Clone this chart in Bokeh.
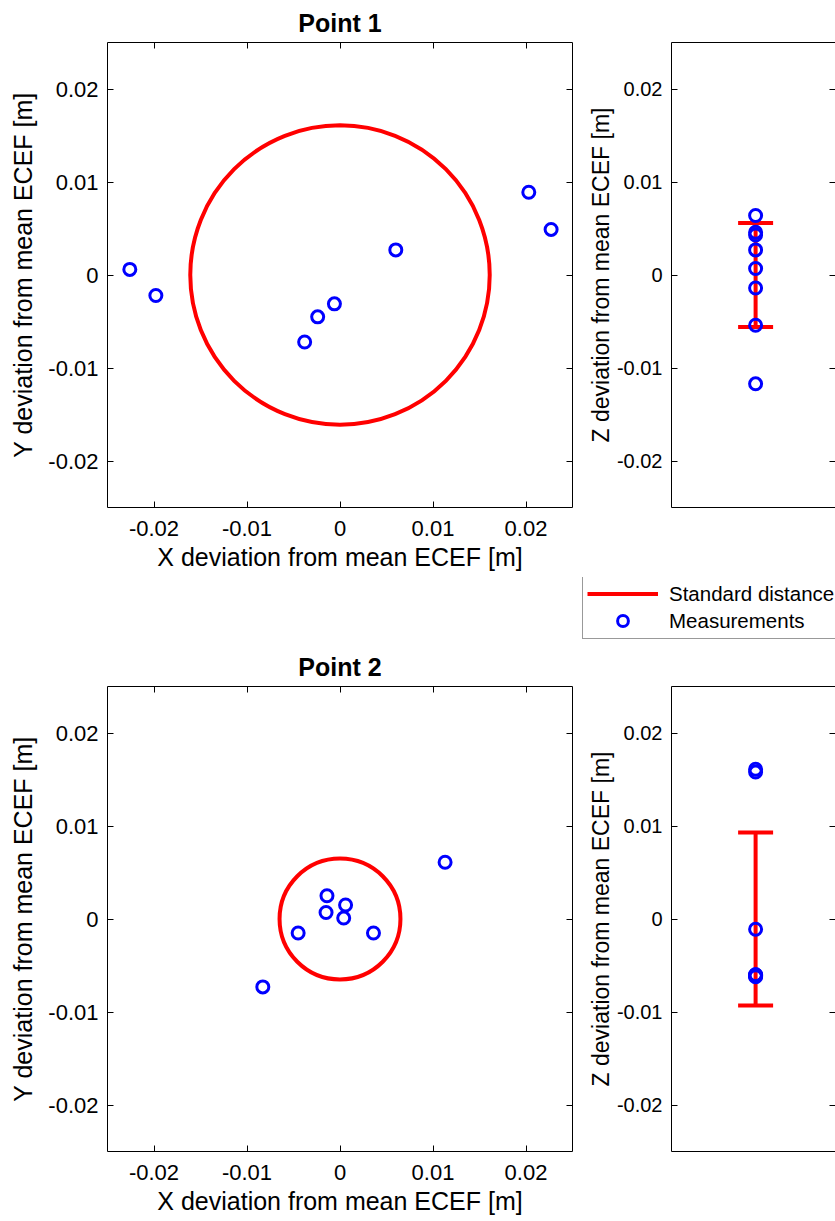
from bokeh.plotting import figure
from bokeh.models import Range1d, FixedTicker, LinearAxis, Legend, LegendItem
from bokeh.layouts import column, row
from bokeh.embed import file_html
from bokeh.resources import INLINE

# ---------------- data ----------------
tick_values = [-0.02, -0.01, 0.0, 0.01, 0.02]
tick_labels = ["-0.02", "-0.01", "0", "0.01", "0.02"]
axis_limits = (-0.025, 0.025)

p1_x = [-0.0226, -0.0198, -0.0038, -0.0024, -0.0006, 0.0060, 0.0203, 0.0227]
p1_y = [0.0006, -0.0022, -0.0072, -0.0045, -0.0031, 0.0027, 0.0089, 0.0049]
p1_z = [0.0064, 0.0046, 0.0043, 0.0027, 0.0007, -0.0014, -0.0054, -0.0117]
p1_std_xy = 0.0161
p1_std_z = 0.0056

p2_x = [0.0113, -0.0014, 0.0006, -0.0015, 0.0004, -0.0045, 0.0036, -0.0083]
p2_y = [0.0061, 0.0025, 0.0015, 0.0007, 0.0001, -0.0015, -0.0015, -0.0073]
p2_z = [0.0161, 0.0158, -0.0011, -0.0060, -0.0061, -0.0062, -0.0061, -0.0060]
p2_std_xy = 0.0065
p2_std_z = 0.0093

z_position = 1.0
z_limits = (0.0, 1.95)
titles = ["Point 1", "Point 2"]
x_label = "X deviation from mean ECEF [m]"
y_label = "Y deviation from mean ECEF [m]"
z_label = "Z deviation from mean ECEF [m]"
legend_labels = ["Standard distance", "Measurements"]

FONT = "Liberation Sans"
overrides = dict(zip(tick_values, tick_labels))

# layout (pixels)
XY_W, Z_W = 582, 253
ROW1_H, LEG_H = 577, 63
ROW2_H = 1221 - ROW1_H - LEG_H


def blank_axis(ticks, tick_in, line=None):
    ax = LinearAxis(ticker=FixedTicker(ticks=ticks))
    ax.major_tick_in = tick_in
    ax.major_tick_out = 0
    ax.minor_tick_in = 0
    ax.minor_tick_out = 0
    ax.major_label_text_font_size = "0px"
    ax.major_label_standoff = 0
    ax.major_label_overrides = {t: "" for t in ticks}
    ax.axis_line_color = line
    ax.major_tick_line_color = "black"
    return ax


def style_axis(ax, label, tick_size, label_size, tick_standoff, label_standoff, ticks=True):
    ax.ticker = FixedTicker(ticks=tick_values if ticks else [])
    ax.major_label_overrides = overrides if ticks else {}
    ax.major_tick_in = 6
    ax.major_tick_out = 0
    ax.minor_tick_in = 0
    ax.minor_tick_out = 0
    ax.major_tick_line_color = "black"
    ax.major_label_text_font = FONT
    ax.major_label_text_font_size = tick_size
    ax.major_label_text_color = "black"
    ax.major_label_standoff = tick_standoff
    ax.axis_label = label
    ax.axis_label_text_font = FONT
    ax.axis_label_text_font_size = label_size
    ax.axis_label_text_font_style = "normal"
    ax.axis_label_text_color = "black"
    ax.axis_label_standoff = label_standoff


def xy_fig(title, xs, ys, std, height, top_border):
    p = figure(width=XY_W, height=height,
               x_range=Range1d(*axis_limits), y_range=Range1d(*axis_limits),
               output_backend="svg", toolbar_location=None,
               min_border_left=107, min_border_right=10,
               min_border_top=top_border, min_border_bottom=height - top_border - 465,
               title=title)
    p.title.text_font = FONT
    p.title.text_font_size = "25px"
    p.title.text_font_style = "bold"
    p.title.align = "center"
    p.title.offset = 5
    p.title.standoff = 11
    p.title.text_color = "black"
    p.outline_line_color = "black"
    p.outline_line_width = 1
    p.grid.visible = False
    style_axis(p.xaxis[0], x_label, "22px", "25px", 13, 4)
    style_axis(p.yaxis[0], y_label, "22px", "25px", 9, 8)
    p.xaxis[0].axis_line_color = None
    p.yaxis[0].axis_line_color = None
    p.add_layout(blank_axis(tick_values, 6), "above")
    p.add_layout(blank_axis(tick_values, 6), "right")
    p.circle(x=[0.0], y=[0.0], radius=std, fill_color=None,
             line_color="red", line_width=4)
    p.scatter(x=xs, y=ys, size=12, fill_color=None, line_color="blue",
              line_width=3)
    return p


def z_glyphs(p, zs, std, visible=True):
    seg = p.segment(x0=[z_position], y0=[-std], x1=[z_position], y1=[std],
                    line_color="red", line_width=4, visible=visible)
    p.scatter(x=[z_position, z_position], y=[std, -std], marker="dash",
              size=35, line_color="red", line_width=4, visible=visible)
    sc = p.scatter(x=[z_position] * len(zs), y=zs, size=12, fill_color=None,
                   line_color="blue", line_width=3, visible=visible)
    return seg, sc


def z_fig(zs, std, height, top_border):
    p = figure(width=Z_W, height=height,
               x_range=Range1d(*z_limits), y_range=Range1d(*axis_limits),
               output_backend="svg", toolbar_location=None,
               min_border_left=89, min_border_right=0,
               min_border_top=top_border, min_border_bottom=height - top_border - 465)
    p.outline_line_color = None
    p.grid.visible = False
    style_axis(p.yaxis[0], z_label, "20px", "23px", 9, 0)
    p.yaxis[0].axis_line_color = "black"
    style_axis(p.xaxis[0], None, "0px", "0px", 0, 0, ticks=False)
    p.xaxis[0].axis_line_color = "black"
    p.add_layout(blank_axis([], 0, line="black"), "above")
    p.add_layout(blank_axis(tick_values, 6), "right")
    z_glyphs(p, zs, std)
    return p


def legend_fig(zs, std, height):
    p = figure(width=XY_W + Z_W, height=height, x_axis_type=None, y_axis_type=None,
               x_range=Range1d(*z_limits), y_range=Range1d(*axis_limits),
               output_backend="svg", toolbar_location=None,
               min_border_left=107, min_border_right=0,
               min_border_top=0, min_border_bottom=0)
    p.outline_line_color = None
    p.grid.visible = False
    seg, sc = z_glyphs(p, zs, std, visible=False)
    leg = Legend(items=[LegendItem(label=legend_labels[0], renderers=[seg]),
                        LegendItem(label=legend_labels[1], renderers=[sc])],
                 location=(582 - 107, 1))
    leg.label_text_font = FONT
    leg.label_text_font_size = "20.5px"
    leg.label_text_color = "black"
    leg.glyph_width = 71
    leg.glyph_height = 27
    leg.label_height = 27
    leg.spacing = 0
    leg.padding = 4
    leg.margin = 0
    leg.label_standoff = 11
    leg.border_line_color = "#333333"
    leg.border_line_width = 1
    leg.background_fill_color = "white"
    leg.background_fill_alpha = 1.0
    leg.inactive_fill_alpha = 0.0
    p.add_layout(leg)
    return p


a = xy_fig(titles[0], p1_x, p1_y, p1_std_xy, ROW1_H, 42)
b = z_fig(p1_z, p1_std_z, ROW1_H, 42)
lg = legend_fig(p1_z, p1_std_z, LEG_H)
c = xy_fig(titles[1], p2_x, p2_y, p2_std_xy, ROW2_H, 46)
d = z_fig(p2_z, p2_std_z, ROW2_H, 46)

layout = column(row(a, b, spacing=0), lg, row(c, d, spacing=0), spacing=0)

open("out.html", "w").write(file_html(layout, INLINE))
